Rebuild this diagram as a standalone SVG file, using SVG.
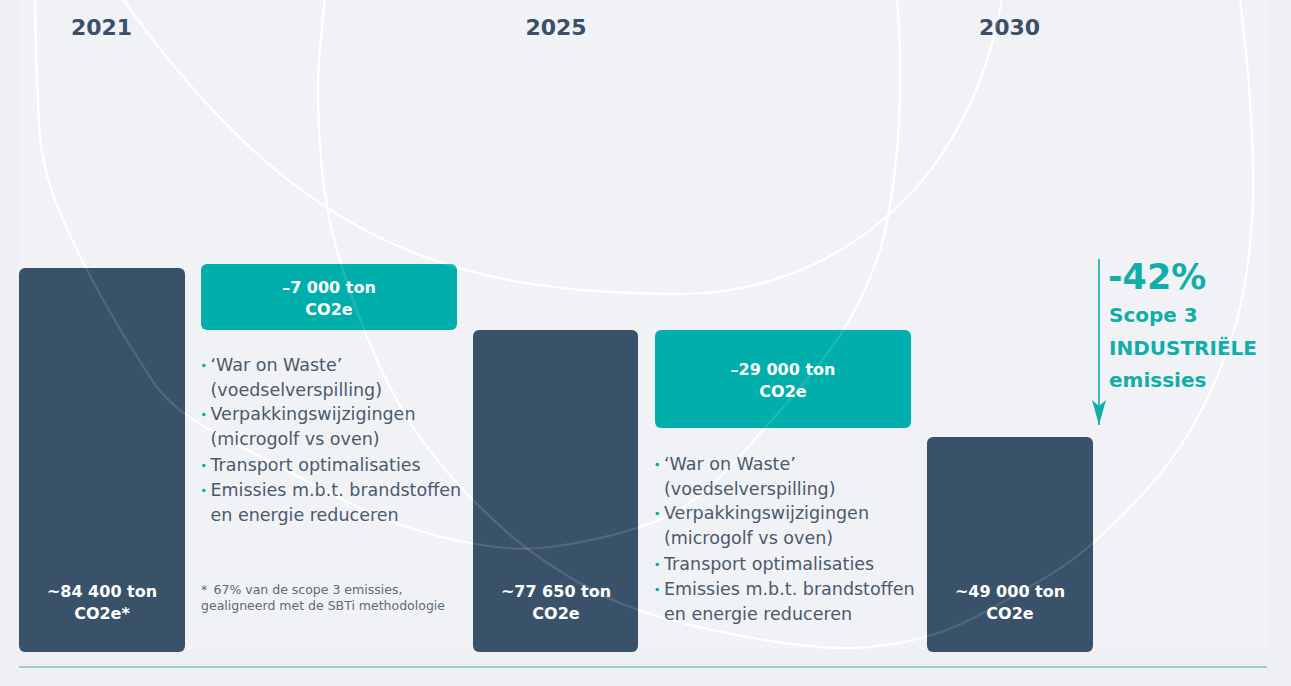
<svg xmlns="http://www.w3.org/2000/svg" xmlns:xlink="http://www.w3.org/1999/xlink" width="1291" height="686" viewBox="0 0 1291 686">
<style>
.yr{font-family:"DejaVu Sans","Liberation Sans",sans-serif;font-weight:bold;font-size:22px;fill:#3b5068;text-anchor:middle}
.bar{fill:#3a5269}
.box{fill:#00afab}
.val{font-family:"DejaVu Sans","Liberation Sans",sans-serif;font-weight:bold;font-size:16px;fill:#ffffff;text-anchor:middle}
.li{font-family:"DejaVu Sans","Liberation Sans",sans-serif;font-size:17.5px;fill:#4a5a6b}
.dot{fill:#00afab}
.note{font-family:"DejaVu Sans","Liberation Sans",sans-serif;font-size:12.5px;fill:#5d6b7a}
.ann{font-family:"DejaVu Sans","Liberation Sans",sans-serif;font-weight:bold;fill:#11aea9}
.arc{fill:none;stroke:#ffffff;stroke-width:2.2}
.arcTop{fill:none;stroke:#ffffff;stroke-width:2.2;stroke-opacity:0.12}
</style>
<defs>
<path id="arcA" d="M122,-2 C296,243 450,294 680,294 C820,294 968,200 1002,-2"/>
<path id="arcC" d="M35,-20 C35.3,-3.3 35.3,48.8 37,80 C38.7,111.2 38.3,138.7 45,167 C51.7,195.3 62.3,219.5 77,250 C91.7,280.5 115.8,323.3 133,350 C150.2,376.7 155.5,390.5 180,410 C204.5,429.5 246.7,449.2 280,467 C313.3,484.8 350,504.7 380,517 C410,529.3 433.3,535.8 460,541 C486.7,546.2 510,550.3 540,548 C570,545.7 613.3,535.8 640,527 C666.7,518.2 679.5,511.2 700,495 C720.5,478.8 739.8,456.3 763,430 C786.2,403.7 819.5,367 839,337 C858.5,307 870.3,281.2 880,250 C889.7,218.8 893.7,181.7 897,150 C900.3,118.3 900.2,88.3 900,60 C899.8,31.7 896.7,-6.7 896,-20"/>
<path id="arcB" d="M327,-20 C325.5,-1.7 317.7,50.5 318,90 C318.3,129.5 320.8,175.8 329,217 C337.2,258.2 353,302 367,337 C381,372 395.3,399.8 413,427 C430.7,454.2 451.3,477.8 473,500 C494.7,522.2 516.8,542.2 543,560 C569.2,577.8 596,594.2 630,607 C664,619.8 710.3,630.2 747,637 C783.7,643.8 818.7,648.5 850,648 C881.3,647.5 907.5,642.8 935,634 C962.5,625.2 988.7,610.2 1015,595 C1041.3,579.8 1065.5,567.7 1093,543 C1120.5,518.3 1156.7,482 1180,447 C1203.3,412 1221,370.8 1233,333 C1245,295.2 1249.2,258.8 1252,220 C1254.8,181.2 1252.3,140 1250,100 C1247.7,60 1240,0 1238,-20"/>
<marker id="arrow" markerUnits="userSpaceOnUse" viewBox="-1 -8 28 16" markerWidth="28" markerHeight="16" refX="25" refY="0" orient="auto">
<path d="M0,-7 L25,0 L0,7 L6,0 Z" fill="#11aea9"/>
</marker>
</defs>

<rect x="0" y="0" width="1291" height="686" fill="#eef0f3"/>
<rect x="19" y="0" width="1248" height="650" fill="#f1f2f6"/>

<g id="background-arcs">
<use xlink:href="#arcA" class="arc"/>
<use xlink:href="#arcB" class="arc"/>
<use xlink:href="#arcC" class="arc"/>
</g>

<g id="year-2021"><text class="yr" x="101.5" y="35">2021</text></g>
<g id="year-2025"><text class="yr" x="556" y="35">2025</text></g>
<g id="year-2030"><text class="yr" x="1009.5" y="35">2030</text></g>

<g id="bar-2021">
<rect class="bar" x="19" y="268" width="166" height="384" rx="6"/>
<text class="val" x="102" y="597">~84 400 ton</text>
<text class="val" x="102" y="619">CO2e*</text>
</g>

<g id="bar-2025">
<rect class="bar" x="473" y="330" width="165" height="322" rx="6"/>
<text class="val" x="556" y="597">~77 650 ton</text>
<text class="val" x="556" y="619">CO2e</text>
</g>

<g id="bar-2030">
<rect class="bar" x="927" y="437" width="166" height="215" rx="6"/>
<text class="val" x="1010" y="597">~49 000 ton</text>
<text class="val" x="1010" y="619">CO2e</text>
</g>

<g id="reduction-1">
<rect class="box" x="201" y="264" width="256" height="66" rx="6"/>
<text class="val" x="329" y="293">–7 000 ton</text>
<text class="val" x="329" y="315">CO2e</text>
</g>

<g id="reduction-2">
<rect class="box" x="655" y="330" width="256" height="98" rx="6"/>
<text class="val" x="783" y="375">–29 000 ton</text>
<text class="val" x="783" y="397">CO2e</text>
</g>

<g id="measures-1">
<circle class="dot" cx="203.8" cy="365.5" r="1.8"/>
<circle class="dot" cx="203.8" cy="414.5" r="1.8"/>
<circle class="dot" cx="203.8" cy="465.5" r="1.8"/>
<circle class="dot" cx="203.8" cy="490.5" r="1.8"/>
<text class="li" x="210.5" y="371">‘War on Waste’</text>
<text class="li" x="210.5" y="395.5">(voedselverspilling)</text>
<text class="li" x="210.5" y="420">Verpakkingswijzigingen</text>
<text class="li" x="210.5" y="444.5">(microgolf vs oven)</text>
<text class="li" x="210.5" y="471">Transport optimalisaties</text>
<text class="li" x="210.5" y="496">Emissies m.b.t. brandstoffen</text>
<text class="li" x="210.5" y="521">en energie reduceren</text>
</g>

<g id="measures-2">
<circle class="dot" cx="657.3" cy="464.5" r="1.8"/>
<circle class="dot" cx="657.3" cy="513.5" r="1.8"/>
<circle class="dot" cx="657.3" cy="564.5" r="1.8"/>
<circle class="dot" cx="657.3" cy="589.5" r="1.8"/>
<text class="li" x="664" y="470">‘War on Waste’</text>
<text class="li" x="664" y="494.5">(voedselverspilling)</text>
<text class="li" x="664" y="519">Verpakkingswijzigingen</text>
<text class="li" x="664" y="543.5">(microgolf vs oven)</text>
<text class="li" x="664" y="570">Transport optimalisaties</text>
<text class="li" x="664" y="595">Emissies m.b.t. brandstoffen</text>
<text class="li" x="664" y="620">en energie reduceren</text>
</g>

<g id="footnote">
<text class="note" x="201" y="594">*</text>
<text class="note" x="213.5" y="594">67% van de scope 3 emissies,</text>
<text class="note" x="201" y="610">gealigneerd met de SBTi methodologie</text>
</g>

<g id="target-annotation">
<text class="ann" x="1108" y="289" font-size="35px">-42%</text>
<text class="ann" x="1109" y="322" font-size="20px">Scope 3</text>
<text class="ann" x="1109" y="355" font-size="20px">INDUSTRIËLE</text>
<text class="ann" x="1109" y="387" font-size="20px">emissies</text>
</g>

<g id="connectors">
<line x1="1099" y1="259" x2="1099" y2="425" stroke="#11aea9" stroke-width="1.6" marker-end="url(#arrow)"/>
</g>

<g id="arc-overlay">
<use xlink:href="#arcA" class="arcTop"/>
<use xlink:href="#arcB" class="arcTop"/>
<use xlink:href="#arcC" class="arcTop"/>
</g>

<line id="baseline" x1="19" y1="667" x2="1267" y2="667" stroke="#4aa9aa" stroke-width="1.2"/>
</svg>
